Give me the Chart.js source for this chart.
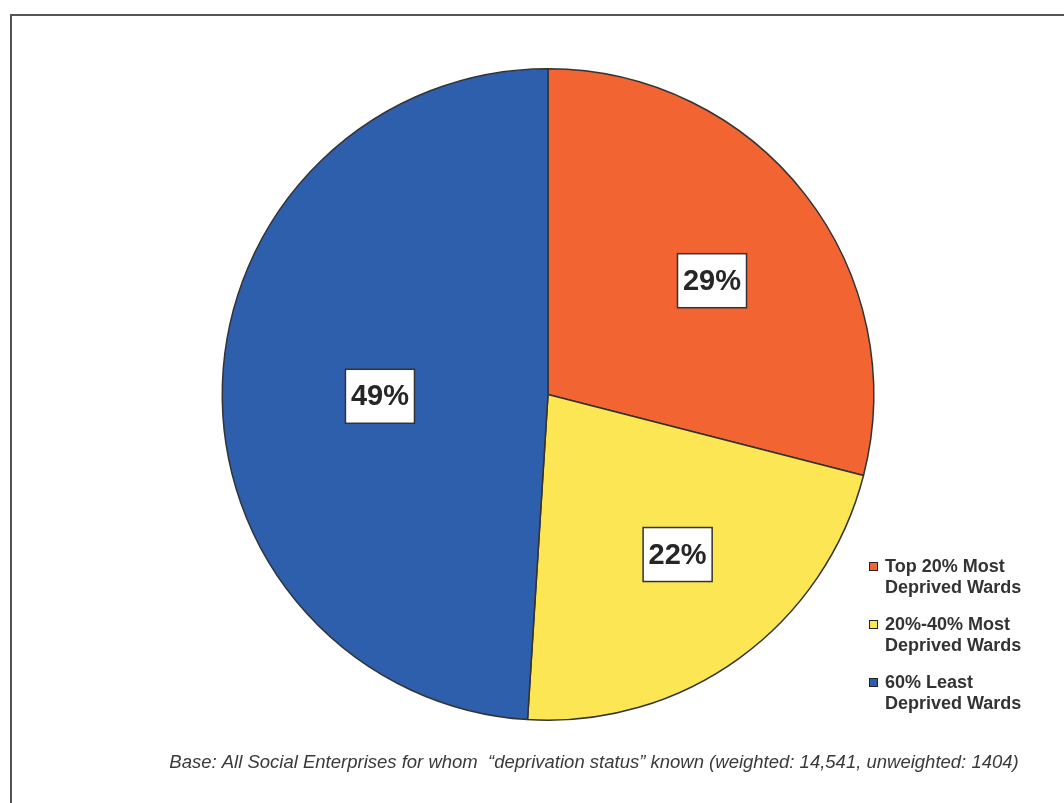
<!DOCTYPE html>
<html>
<head>
<meta charset="utf-8">
<script src="https://cdn.jsdelivr.net/npm/chart.js@4"></script>
<style>
  html, body { margin: 0; padding: 0; background: #fff; overflow: hidden; }
  #wrap { position: relative; width: 1064px; height: 803px; }
</style>
</head>
<body>
<div id="wrap"><canvas id="pie" width="1064" height="803"></canvas></div>
<script>
// Deprivation status of social enterprises
const categories = [
  ['Top 20% Most', 'Deprived Wards'],
  ['20%-40% Most', 'Deprived Wards'],
  ['60% Least', 'Deprived Wards']
];
const shares = [29, 22, 49];
const colours = ['#F26432', '#FCE654', '#2E5FAD'];
const footnote = 'Base: All Social Enterprises for whom  \u201cdeprivation status\u201d known (weighted: 14,541, unweighted: 1404)';

// value boxes: fraction of radius along the mid angle, then a small pixel nudge
const labelRadius = [0.61, 0.63, 0.51];
const labelNudge = [[7, 8], [9, -6], [-2, 7]];

const frame = {
  id: 'frame',
  beforeDraw(chart) {
    const ctx = chart.ctx;
    ctx.save();
    ctx.fillStyle = '#fff';
    ctx.fillRect(0, 0, chart.width, chart.height);
    ctx.strokeStyle = '#555';
    ctx.lineWidth = 2;
    ctx.beginPath();
    ctx.moveTo(11, chart.height + 5);
    ctx.lineTo(11, 15);
    ctx.lineTo(chart.width + 5, 15);
    ctx.stroke();
    ctx.restore();
  }
};

const valueBoxes = {
  id: 'valueBoxes',
  afterDatasetsDraw(chart) {
    const ctx = chart.ctx;
    const meta = chart.getDatasetMeta(0);
    ctx.save();
    ctx.font = 'bold 29px "Liberation Sans", Arial, sans-serif';
    ctx.textAlign = 'center';
    ctx.textBaseline = 'middle';
    meta.data.forEach((arc, i) => {
      const p = arc.getProps(['x', 'y', 'startAngle', 'endAngle', 'outerRadius'], true);
      const mid = (p.startAngle + p.endAngle) / 2;
      const r = p.outerRadius * labelRadius[i];
      const x = p.x + Math.cos(mid) * r + labelNudge[i][0];
      const y = p.y + Math.sin(mid) * r + labelNudge[i][1];
      const text = shares[i] + '%';
      const w = ctx.measureText(text).width + 11;
      const h = 54;
      ctx.fillStyle = '#fff';
      ctx.fillRect(x - w / 2, y - h / 2, w, h);
      ctx.strokeStyle = '#333';
      ctx.lineWidth = 1.5;
      ctx.strokeRect(x - w / 2, y - h / 2, w, h);
      ctx.fillStyle = '#262626';
      ctx.fillText(text, x, y + 1);
    });
    ctx.restore();
  }
};

const sideLegend = {
  id: 'sideLegend',
  afterDraw(chart) {
    const ctx = chart.ctx;
    ctx.save();
    ctx.font = 'bold 18px "Liberation Sans", Arial, sans-serif';
    ctx.textBaseline = 'middle';
    categories.forEach((lines, i) => {
      const top = 567 + i * 58;
      ctx.fillStyle = colours[i];
      ctx.fillRect(869, top - 5, 9, 9);
      ctx.strokeStyle = '#222';
      ctx.lineWidth = 1;
      ctx.strokeRect(869.5, top - 4.5, 8, 8);
      ctx.fillStyle = '#333';
      lines.forEach((line, j) => ctx.fillText(line, 885, top + j * 21, 138));
    });

    ctx.font = 'italic 18.5px "Liberation Sans", Arial, sans-serif';
    ctx.fillStyle = '#3a3a3a';
    ctx.textAlign = 'center';
    ctx.fillText(footnote, 594, 763, 853);
    ctx.restore();
  }
};

new Chart(document.getElementById('pie'), {
  type: 'pie',
  data: {
    labels: categories,
    datasets: [{
      data: shares,
      backgroundColor: colours,
      borderColor: '#333',
      borderWidth: 1.5
    }]
  },
  options: {
    responsive: false,
    animation: false,
    layout: { padding: { left: 221, right: 189, top: 68, bottom: 82 } },
    plugins: {
      legend: { display: false },
      tooltip: { enabled: false }
    }
  },
  plugins: [frame, valueBoxes, sideLegend]
});
</script>
</body>
</html>
